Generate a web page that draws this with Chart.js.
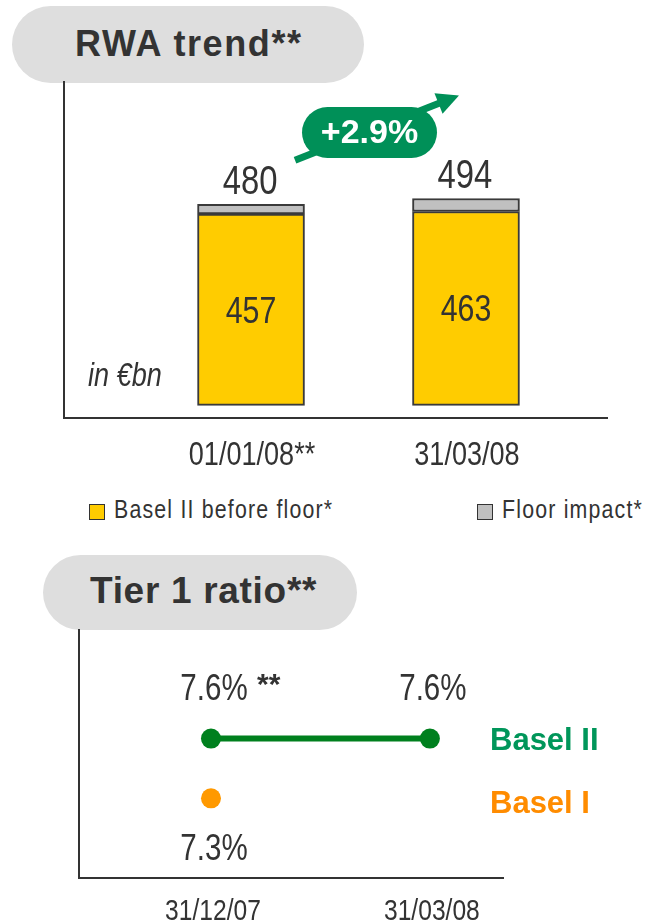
<!DOCTYPE html>
<html>
<head>
<meta charset="utf-8">
<script src="https://cdn.jsdelivr.net/npm/chart.js@4.4.1/dist/chart.umd.min.js"></script>
<style>
    body { margin: 0; background: #fff; width: 646px; height: 921px; position: relative; overflow: hidden; }
    /* no Arial Narrow here, so squeeze Liberation Sans (same metrics as Arial) to 82% */
    .narrow { font-family: "Liberation Sans", Arial, sans-serif; color: #333; white-space: nowrap; display: inline-block; transform: scaleX(0.82); transform-origin: 0 0; }
    .pill { position: absolute; background: #dedede; border-radius: 40px; font-family: "Liberation Sans", Arial, sans-serif; font-weight: bold; color: #333; box-sizing: border-box; white-space: nowrap; }
    .legend { position: absolute; top: 495px; font-size: 26px; line-height: 28px; white-space: nowrap; }
    .legend .narrow { letter-spacing: 1.45px; }
    .legend .box { display: inline-block; width: 14px; height: 14px; border: 1.5px solid #333; vertical-align: -2px; margin-right: 9px; }
    canvas { position: absolute; left: 0; }
</style>
</head>
<body>

<div class="pill" style="left:12px; top:6px; width:352px; height:77px; font-size:36px; letter-spacing:1.6px; padding:17px 0 0 63px;">RWA trend**</div>
<div class="pill" style="left:43px; top:555px; width:314px; height:75px; font-size:37px; letter-spacing:0.7px; padding:15px 0 0 47px;">Tier 1 ratio**</div>

<div id="rwa-wrap" style="position:absolute; left:0; top:0; width:646px; height:480px;">
    <canvas id="rwaChart" width="646" height="480"></canvas>
</div>
<div style="position:absolute; left:88px; top:356px; font-size:33px; font-style:italic;"><span class="narrow">in €bn</span></div>

<div class="legend" style="left:89px;"><span class="box" style="background:#ffcc00;"></span><span class="narrow">Basel II before floor*</span></div>
<div class="legend" style="left:477px;"><span class="box" style="background:#c0c0c0;"></span><span class="narrow">Floor impact*</span></div>

<div id="tier-wrap" style="position:absolute; left:0; top:560px; width:646px; height:361px;">
    <canvas id="tierChart" width="646" height="361"></canvas>
</div>

<script>
// RWA trend data (in EUR bn)
const rwaDates = ['01/01/08**', '31/03/08'];
const baselBeforeFloor = [457, 463];
const floorImpact = [23, 31];
const rwaTotals = [480, 494];
const rwaChange = '+2.9%';

// Tier 1 ratio data (%)
const tierDates = ['31/12/07', '31/03/08'];
const baselII = [7.6, 7.6];
const baselI = [7.3];

const SANS = '"Liberation Sans", Arial, sans-serif';

// draw text squeezed to look like Arial Narrow
function narrowText(ctx, text, x, y, size, align) {
    ctx.save();
    ctx.translate(x, y);
    ctx.scale(0.82, 1);
    ctx.font = size + 'px ' + SANS;
    ctx.textAlign = align || 'center';
    ctx.textBaseline = 'alphabetic';
    ctx.fillText(text, 0, 0);
    ctx.restore();
}

// --- RWA stacked bars ---
new Chart(document.getElementById('rwaChart'), {
    type: 'bar',
    data: {
        datasets: [
            {
                label: 'Basel II before floor*',
                data: baselBeforeFloor.map((v, i) => ({ x: i, y: v })),
                backgroundColor: '#ffcc00',
                borderColor: '#3a3a3a',
                borderWidth: 2,
                borderSkipped: false,
                barThickness: 107
            },
            {
                label: 'Floor impact*',
                data: floorImpact.map((v, i) => ({ x: i, y: v })),
                backgroundColor: '#c0c0c0',
                borderColor: '#3a3a3a',
                borderWidth: 2,
                borderSkipped: false,
                barThickness: 107
            }
        ]
    },
    options: {
        responsive: false,
        animation: false,
        layout: { padding: { left: 64, top: 82, right: 39, bottom: 0 } },
        scales: {
            x: {
                type: 'linear',
                stacked: true,
                offset: false,
                min: -0.87,
                max: 1.656,
                grid: { display: false },
                ticks: { display: false },
                border: { display: true, color: '#333', width: 2 },
                afterFit: (scale) => { scale.height = 62; }
            },
            y: {
                stacked: true,
                min: -30,
                max: 772,
                grid: { display: false },
                ticks: { display: false },
                border: { display: true, color: '#333', width: 2 },
                afterFit: (scale) => { scale.width = 0; }
            }
        },
        plugins: {
            legend: { display: false },
            tooltip: { enabled: false }
        }
    },
    plugins: [{
        id: 'rwaLabels',
        afterDraw: function (chart) {
            const ctx = chart.ctx;
            const xs = chart.scales.x;
            const ys = chart.scales.y;
            ctx.save();
            ctx.fillStyle = '#333';

            rwaTotals.forEach(function (t, i) {
                const xp = xs.getPixelForValue(i);
                // total above the stack
                narrowText(ctx, t, xp - 1, ys.getPixelForValue(t) - 10, 40);
                // Basel II value inside the yellow part
                narrowText(ctx, baselBeforeFloor[i], xp, ys.getPixelForValue(baselBeforeFloor[i] / 2) + 13, 37);
                // category label under the axis
                narrowText(ctx, rwaDates[i], xp + 1, xs.top + 47, 33);
            });

            // growth arrow between the two totals
            const x0 = xs.getPixelForValue(0) + 44, y0 = ys.getPixelForValue(rwaTotals[0]) - 44;
            const x1 = xs.getPixelForValue(1) - 7, y1 = ys.getPixelForValue(rwaTotals[1]) - 103;
            const ang = Math.atan2(y1 - y0, x1 - x0);
            ctx.strokeStyle = '#009058';
            ctx.fillStyle = '#009058';
            ctx.lineWidth = 7;
            ctx.beginPath();
            ctx.moveTo(x0, y0);
            ctx.lineTo(x1 - 16 * Math.cos(ang), y1 - 16 * Math.sin(ang));
            ctx.stroke();
            ctx.beginPath();
            ctx.moveTo(x1, y1);
            ctx.lineTo(x1 - 22 * Math.cos(ang) + 11 * Math.sin(ang), y1 - 22 * Math.sin(ang) - 11 * Math.cos(ang));
            ctx.lineTo(x1 - 22 * Math.cos(ang) - 11 * Math.sin(ang), y1 - 22 * Math.sin(ang) + 11 * Math.cos(ang));
            ctx.closePath();
            ctx.fill();

            // badge
            const bx = 302, by = 107, bw = 135, bh = 51;
            ctx.beginPath();
            ctx.roundRect(bx, by, bw, bh, bh / 2);
            ctx.fill();
            ctx.fillStyle = '#fff';
            ctx.font = 'bold 34px ' + SANS;
            ctx.textAlign = 'center';
            ctx.textBaseline = 'middle';
            ctx.fillText(rwaChange, bx + bw / 2, by + bh / 2 + 1);
            ctx.restore();
        }
    }]
});

// --- Tier 1 ratio points ---
new Chart(document.getElementById('tierChart'), {
    type: 'line',
    data: {
        datasets: [
            {
                label: 'Basel II',
                data: baselII.map((v, i) => ({ x: i, y: v })),
                borderColor: '#00801e',
                backgroundColor: '#00801e',
                borderWidth: 6,
                pointRadius: 10,
                pointBorderWidth: 0
            },
            {
                label: 'Basel I',
                data: baselI.map((v, i) => ({ x: i, y: v })),
                borderColor: '#ff9900',
                backgroundColor: '#ff9900',
                showLine: false,
                pointRadius: 10,
                pointBorderWidth: 0
            }
        ]
    },
    options: {
        responsive: false,
        animation: false,
        layout: { padding: { left: 79, top: 70, right: 143, bottom: 0 } },
        scales: {
            x: {
                type: 'linear',
                offset: false,
                min: -0.603,
                max: 1.334,
                grid: { display: false },
                ticks: { display: false },
                border: { display: true, color: '#333', width: 2 },
                afterFit: (scale) => { scale.height = 43; }
            },
            y: {
                min: 6.9,
                max: 8.145,
                grid: { display: false },
                ticks: { display: false },
                border: { display: true, color: '#333', width: 2 },
                afterFit: (scale) => { scale.width = 0; }
            }
        },
        plugins: {
            legend: { display: false },
            tooltip: { enabled: false }
        }
    },
    plugins: [{
        id: 'tierLabels',
        afterDraw: function (chart) {
            const ctx = chart.ctx;
            const xs = chart.scales.x;
            const ys = chart.scales.y;
            ctx.save();
            ctx.fillStyle = '#333';
            baselII.forEach(function (v, i) {
                narrowText(ctx, v.toFixed(1) + '%', xs.getPixelForValue(i) + 3, ys.getPixelForValue(v) - 39, 36);
            });
            baselI.forEach(function (v, i) {
                narrowText(ctx, v.toFixed(1) + '%', xs.getPixelForValue(i) + 3, ys.getPixelForValue(v) + 62, 36);
            });
            tierDates.forEach(function (d, i) {
                narrowText(ctx, d, xs.getPixelForValue(i) + 2, xs.top + 42, 30);
            });

            // footnote stars on the first Basel II value
            ctx.font = 'bold 30px ' + SANS;
            ctx.textAlign = 'left';
            ctx.textBaseline = 'alphabetic';
            ctx.fillText('**', xs.getPixelForValue(0) + 46, ys.getPixelForValue(baselII[0]) - 45);

            // series names at the right
            ctx.font = 'bold 31px ' + SANS;
            ctx.fillStyle = '#00965a';
            ctx.fillText('Basel II', xs.right - 13, ys.getPixelForValue(baselII[baselII.length - 1]) + 11);
            ctx.fillStyle = '#ff8c00';
            ctx.fillText('Basel I', xs.right - 13, ys.getPixelForValue(baselI[0]) + 15);
            ctx.restore();
        }
    }]
});
</script>
</body>
</html>
